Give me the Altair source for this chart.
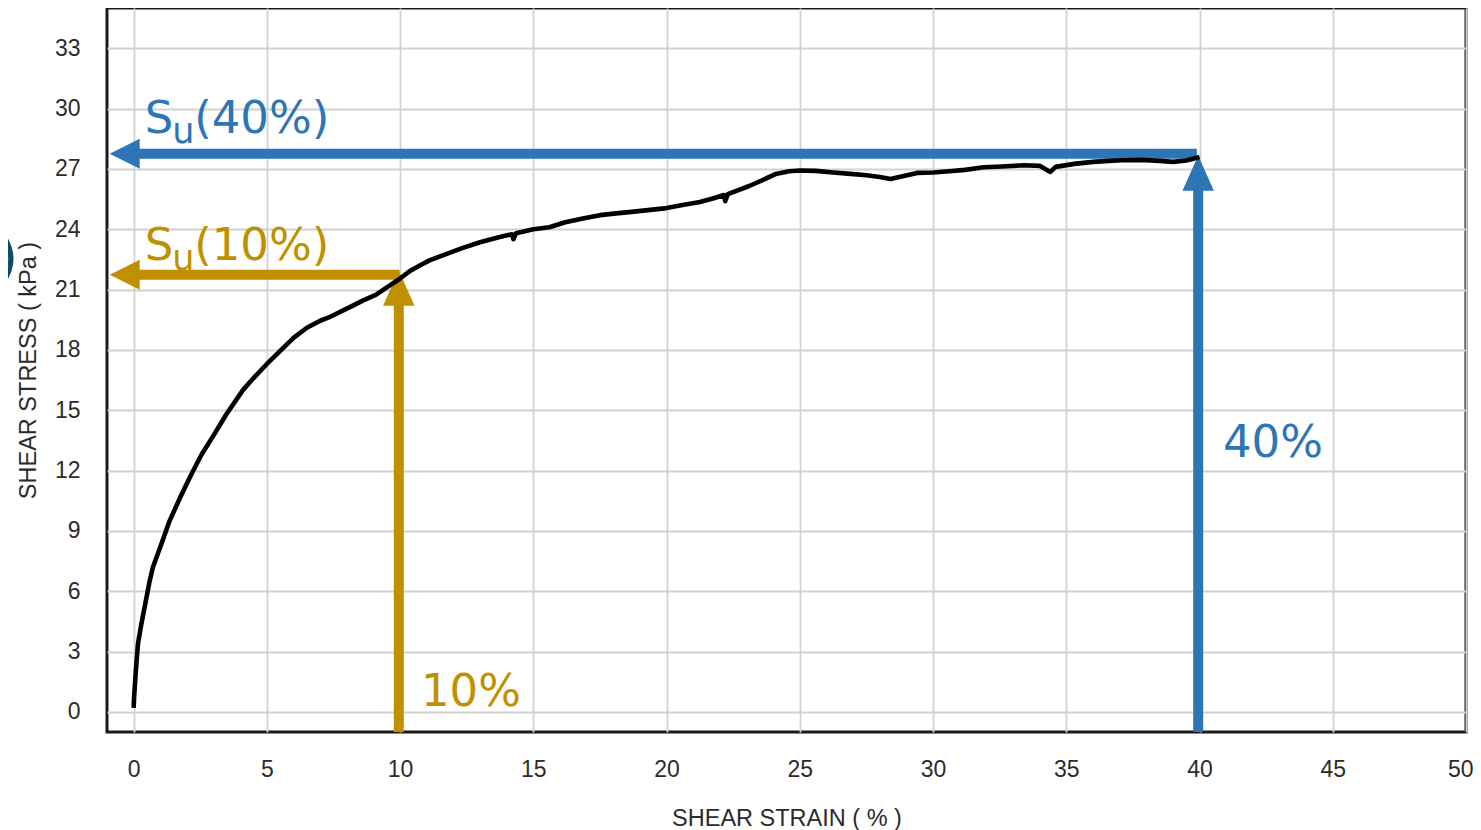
import altair as alt
import pandas as pd

# ---- data ----
strain = [0.0, 0.02, 0.08, 0.16, 0.28, 0.41, 0.6, 0.72, 1.04, 1.35, 1.75, 2.17, 2.55, 3.0,
          3.48, 4.1, 4.5, 5.0, 5.5, 6.0, 6.5, 7.0, 7.3, 8.0, 8.6, 9.1, 9.6, 10.0, 10.4,
          10.74, 11.1, 11.7, 12.3, 13.0, 13.7, 14.2, 14.25, 14.35, 15.0, 15.6, 16.2, 16.9,
          17.5, 18.2, 18.6, 19.3, 20.0, 20.6, 21.25, 21.8, 22.15, 22.2, 22.3, 23.1, 23.7,
          24.1, 24.6, 25.0, 25.6, 26.25, 26.9, 27.5, 28.0, 28.4, 28.9, 29.4, 30.0, 30.6,
          31.2, 31.9, 32.6, 33.4, 34.0, 34.4, 34.6, 35.3, 36.0, 36.6, 37.1, 37.8, 38.5,
          39.0, 39.5, 39.9, 40.0]
stress = [0.2, 0.8, 2.0, 3.37, 4.3, 5.19, 6.5, 7.18, 8.35, 9.5, 10.67, 11.83, 12.8, 13.75,
          14.8, 16.0, 16.6, 17.3, 17.95, 18.6, 19.1, 19.45, 19.6, 20.05, 20.45, 20.75, 21.2,
          21.55, 21.95, 22.2, 22.45, 22.75, 23.05, 23.35, 23.6, 23.75, 23.5, 23.8, 24.0,
          24.1, 24.35, 24.55, 24.7, 24.8, 24.85, 24.95, 25.05, 25.2, 25.35, 25.55, 25.7,
          25.4, 25.75, 26.15, 26.5, 26.75, 26.88, 26.92, 26.9, 26.82, 26.75, 26.68, 26.6,
          26.5, 26.65, 26.8, 26.82, 26.88, 26.95, 27.08, 27.12, 27.18, 27.15, 26.85, 27.1,
          27.25, 27.35, 27.4, 27.43, 27.45, 27.4, 27.35, 27.42, 27.55, 27.6]

x_ticks = [0, 5, 10, 15, 20, 25, 30, 35, 40, 45, 50]
y_ticks = [0, 3, 6, 9, 12, 15, 18, 21, 24, 27, 30, 33]

su_strain = [10, 40]              # strain levels
su_stress = [21.73, 27.75]        # Su at those strains
su_names = ["(10%)", "(40%)"]
strain_names = ["10%", "40%"]

BLUE = "#2E75B6"
GOLD = "#BF9000"
AXFONT = "Liberation Sans"
ANFONT = "DejaVu Sans"

xs = alt.Scale(domain=[-1, 50], nice=False, zero=False)
ys = alt.Scale(domain=[-1, 35], nice=False, zero=False)

common = dict(grid=True, ticks=False, domain=False, labelOverlap=False,
              labelFont=AXFONT, labelFontSize=23, labelColor="#2b2b2b",
              titleFont=AXFONT, titleFontSize=23.5, titleFontWeight="normal",
              titleColor="#2b2b2b", gridColor="#d2d2d2", gridWidth=1.8, format="d")
xaxis = alt.Axis(values=x_ticks, title="SHEAR STRAIN ( % )", labelPadding=26,
                 titlePadding=25, labelFlush=True, labelFlushOffset=7, **common)
yaxis = alt.Axis(values=y_ticks, title="SHEAR STRESS ( kPa )", labelPadding=27,
                 titlePadding=14, labelFlush=False, **common)

X = alt.X("x:Q", scale=xs, axis=xaxis)
Y = alt.Y("y:Q", scale=ys, axis=yaxis)

curve_df = pd.DataFrame({"x": strain, "y": stress})

h_df = pd.DataFrame({"x": [-0.25, -0.25], "x2": [9.98, 39.9], "y": su_stress,
                     "c": ["gold", "blue"]})
v_df = pd.DataFrame({"x": [9.95, 39.95], "y": [-1, -1], "y2": [20.8, 26.5],
                     "c": ["gold", "blue"]})
color = alt.Color("c:N", scale=alt.Scale(domain=["gold", "blue"], range=[GOLD, BLUE]),
                  legend=None)

h_rules = alt.Chart(h_df).mark_rule(strokeWidth=10, strokeCap="butt").encode(
    x=X, x2="x2:Q", y=Y, color=color)
v_rules = alt.Chart(v_df).mark_rule(strokeWidth=10, strokeCap="butt").encode(
    x=X, y=Y, y2="y2:Q", color=color)

left_head_df = pd.DataFrame({"x": [-0.9, -0.9], "y": su_stress, "c": ["gold", "blue"]})
left_heads = alt.Chart(left_head_df).mark_point(
    shape="M0,0L2,-1L2,1Z", size=900, filled=True, opacity=1, strokeWidth=0).encode(
    x=X, y=Y, color=color)

up_head_df = pd.DataFrame({"x": [9.95, 39.95], "y": [21.95, 27.67], "c": ["gold", "blue"]})
up_heads = alt.Chart(up_head_df).mark_point(
    shape="M0,0L-1,2.25L1,2.25Z", size=990, filled=True, opacity=1, strokeWidth=0).encode(
    x=X, y=Y, color=color)

curve = alt.Chart(curve_df).mark_line(color="black", strokeWidth=4.6,
                                      strokeJoin="round").encode(x=X, y=Y)

def txt(df, size, col):
    return alt.Chart(df).mark_text(align="left", baseline="alphabetic", font=ANFONT,
                                   fontSize=size, color=col).encode(
        x=X, y=Y, text="t:N")

s_main_blue = txt(pd.DataFrame({"x": [0.42, 2.27], "y": [28.79, 28.79],
                                "t": ["S", su_names[1]]}), 45, BLUE)
s_sub_blue = txt(pd.DataFrame({"x": [1.45], "y": [28.27], "t": ["u"]}), 35, BLUE)
s_main_gold = txt(pd.DataFrame({"x": [0.42, 2.27], "y": [22.45, 22.45],
                                "t": ["S", su_names[0]]}), 45, GOLD)
s_sub_gold = txt(pd.DataFrame({"x": [1.45], "y": [21.95], "t": ["u"]}), 35, GOLD)
strain_gold = txt(pd.DataFrame({"x": [10.78], "y": [0.3], "t": [strain_names[0]]}), 45, GOLD)
strain_blue = txt(pd.DataFrame({"x": [40.88], "y": [12.69], "t": [strain_names[1]]}), 45, BLUE)

paren = alt.Chart(pd.DataFrame({"x": [-4.33], "y": [21.65], "t": [")"]})).mark_text(
    align="right", baseline="alphabetic", font=ANFONT, fontSize=56, color="#0f4c6b").encode(
    x=X, y=Y, text="t:N")

chart = alt.layer(
    h_rules, v_rules, left_heads, up_heads, curve,
    s_main_blue, s_sub_blue, s_main_gold, s_sub_gold, strain_gold, strain_blue, paren
).properties(
    width=1359, height=724,
    autosize=alt.AutoSizeParams(type="none"),
    padding={"left": 99, "top": 0, "right": 7, "bottom": 98},
    background="white",
).configure_view(stroke="#1a1a1a", strokeWidth=3)

chart.save("out.html", embed_options={"renderer": "svg", "actions": False})
